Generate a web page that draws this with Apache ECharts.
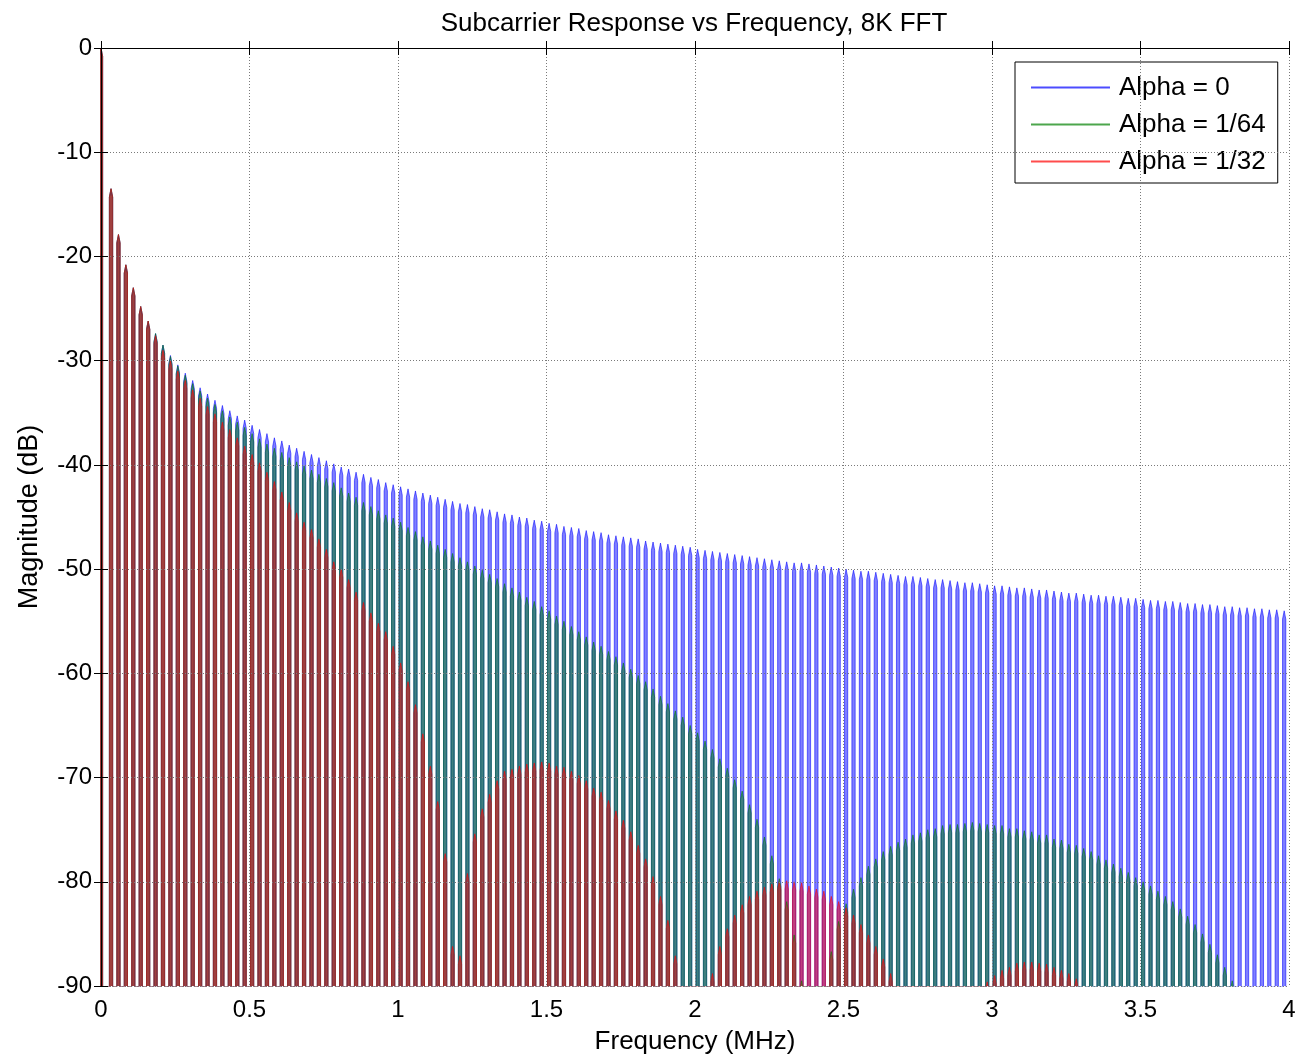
<!DOCTYPE html>
<html>
<head>
<meta charset="utf-8">
<script src="https://cdn.jsdelivr.net/npm/echarts@6/dist/echarts.min.js"></script>
<style>
  html, body { margin: 0; padding: 0; background: #fff; }
  #chart { width: 1301px; height: 1060px; }
</style>
</head>
<body>
<div id="chart"></div>
<script>
// ---- data ----
// Visible lobes repeat every 0.025 MHz; lobe k peaks near (k + 0.35) * 0.025 MHz (lobe 0 = main lobe at 0).
const lobeSpacing = 0.025;
const lobeOffset = 0.35;
// nulls fall off the bottom of the plot
const nullLevel = -92;

const seriesNames = ['Alpha = 0', 'Alpha = 1/64', 'Alpha = 1/32'];

// peak level (dB) of each lobe, k = 0..159
const alpha0Peaks = [
  0,
  -13.5, -17.9, -20.8, -23.0, -24.8, -26.2, -27.4, -28.5, -29.5, -30.4,
  -31.2, -31.9, -32.6, -33.2, -33.8, -34.3, -34.8, -35.3, -35.7, -36.2,
  -36.6, -37.0, -37.4, -37.7, -38.1, -38.4, -38.7, -39.0, -39.3, -39.6,
  -39.9, -40.2, -40.4, -40.7, -40.9, -41.2, -41.4, -41.7, -41.9, -42.1,
  -42.3, -42.5, -42.7, -42.9, -43.1, -43.3, -43.5, -43.7, -43.8, -44.0,
  -44.2, -44.3, -44.5, -44.7, -44.8, -45.0, -45.1, -45.3, -45.4, -45.6,
  -45.7, -45.9, -46.0, -46.1, -46.3, -46.4, -46.5, -46.7, -46.8, -46.9,
  -47.0, -47.1, -47.3, -47.4, -47.5, -47.6, -47.7, -47.8, -47.9, -48.1,
  -48.2, -48.3, -48.4, -48.5, -48.6, -48.7, -48.8, -48.9, -49.0, -49.1,
  -49.2, -49.3, -49.4, -49.4, -49.5, -49.6, -49.7, -49.8, -49.9, -50.0,
  -50.1, -50.2, -50.2, -50.3, -50.4, -50.5, -50.6, -50.7, -50.7, -50.8,
  -50.9, -51.0, -51.0, -51.1, -51.2, -51.3, -51.3, -51.4, -51.5, -51.6,
  -51.6, -51.7, -51.8, -51.8, -51.9, -52.0, -52.0, -52.1, -52.2, -52.3,
  -52.3, -52.4, -52.5, -52.5, -52.6, -52.6, -52.7, -52.8, -52.8, -52.9,
  -53.0, -53.0, -53.1, -53.1, -53.2, -53.3, -53.3, -53.4, -53.4, -53.5,
  -53.6, -53.6, -53.7, -53.7, -53.8, -53.8, -53.9, -53.9, -54.0
];

const alpha64Peaks = [
  0,
  -13.5, -17.9, -20.8, -23.0, -24.8, -26.2, -27.4, -28.5, -29.6, -30.5,
  -31.4, -32.2, -32.9, -33.6, -34.2, -34.8, -35.4, -35.9, -36.4, -37.0,
  -37.5, -38.0, -38.4, -38.8, -39.3, -39.7, -40.1, -40.5, -40.9, -41.3,
  -41.7, -42.2, -42.7, -43.1, -43.6, -44.0, -44.4, -44.8, -45.1, -45.5,
  -46.0, -46.4, -46.9, -47.3, -47.7, -48.1, -48.5, -48.9, -49.3, -49.7,
  -50.1, -50.5, -50.9, -51.4, -51.8, -52.2, -52.7, -53.1, -53.6, -54.0,
  -54.5, -55.0, -55.5, -56.0, -56.5, -57.0, -57.4, -57.9, -58.4, -59.0,
  -59.6, -60.2, -60.8, -61.5, -62.2, -62.9, -63.6, -64.2, -65.0, -65.7,
  -66.5, -67.3, -68.2, -69.1, -70.2, -71.3, -72.6, -74.0, -75.7, -77.5,
  -79.7, -81.9, -85.1, -89.5, null, null, null, -86.7, -83.8, -82.1,
  -80.7, -79.6, -78.5, -77.8, -77.1, -76.6, -76.2, -75.9, -75.5, -75.3,
  -75.0, -74.9, -74.6, -74.5, -74.5, -74.4, -74.3, -74.4, -74.5, -74.6,
  -74.6, -74.9, -74.9, -75.1, -75.2, -75.5, -75.5, -75.9, -76.0, -76.4,
  -76.5, -76.8, -77.1, -77.5, -77.9, -78.3, -78.7, -79.1, -79.6, -80.0,
  -80.4, -80.9, -81.4, -81.9, -82.6, -83.3, -84.1, -85.0, -86.0, -87.0,
  -88.2, -89.5, null, null, null, null, null, null, null
];

const alpha32Peaks = [
  0,
  -13.5, -17.9, -20.8, -23.0, -24.8, -26.2, -27.6, -29.0, -30.0, -31.0,
  -31.9, -32.8, -33.6, -34.4, -35.1, -35.9, -36.6, -37.4, -38.2, -39.0,
  -39.8, -40.7, -41.6, -42.6, -43.6, -44.6, -45.5, -46.2, -47.1, -48.1,
  -49.3, -50.0, -51.0, -52.2, -53.2, -54.2, -55.2, -56.0, -57.4, -59.0,
  -60.8, -63.0, -65.8, -68.9, -72.3, -77.3, -86.2, -87.1, -79.2, -75.4,
  -73.0, -71.6, -70.3, -69.4, -69.2, -68.9, -68.7, -68.6, -68.5, -68.6,
  -68.9, -69.0, -69.4, -69.8, -70.3, -71.0, -71.4, -72.2, -73.2, -74.1,
  -75.2, -76.5, -77.8, -79.5, -81.4, -83.7, -87.1, null, null, null,
  null, -88.8, -86.2, -84.5, -83.2, -82.2, -81.4, -80.9, -80.5, -80.2,
  -80.0, -79.9, -80.0, -80.1, -80.4, -80.7, -80.9, -81.4, -81.9, -82.5,
  -83.2, -84.1, -85.1, -86.2, -87.4, -88.8, null, null, null, null,
  null, null, null, null, null, null, null, null, -89.6, -89.0,
  -88.5, -88.2, -87.8, -87.7, -87.7, -87.8, -87.9, -88.2, -88.5, -88.8,
  -89.3, null, null, null, null, null, null, null, null, null,
  null, null, null, null, null, null, null, null, null, null,
  null, null, null, null, null, null, null, null, null
];

const xTicks = [0, 0.5, 1, 1.5, 2, 2.5, 3, 3.5, 4];
const yTicks = [-90, -80, -70, -60, -50, -40, -30, -20, -10, 0];

// ---- drawing ----
const colors = ['#0000ff', '#008000', '#ff0000'];
const BAND_HALF = 0.22 * lobeSpacing;  // half width of a drawn lobe band
const TOP_POINT = 0.8;                 // height of the pointed lobe top (dB)

function lobePoints(peaks) {
  const pts = [];
  peaks.forEach(function (pk, k) {
    if (pk === null) return;
    const c = k === 0 ? 0 : (k + lobeOffset) * lobeSpacing;
    pts.push([c - BAND_HALF, nullLevel]);
    pts.push([c - BAND_HALF, pk - TOP_POINT]);
    pts.push([c, pk]);
    pts.push([c + BAND_HALF, pk - TOP_POINT]);
    pts.push([c + BAND_HALF, nullLevel]);
  });
  return pts;
}

const allPeaks = [alpha0Peaks, alpha64Peaks, alpha32Peaks];
const FONT = 'Liberation Sans, Arial, Helvetica, sans-serif';

const series = allPeaks.map(function (pk, i) {
  return {
    name: seriesNames[i],
    type: 'line',
    data: lobePoints(pk),
    showSymbol: false,
    symbol: 'none',
    clip: true,
    animation: false,
    color: colors[i],
    lineStyle: { color: colors[i], width: 0.8, opacity: 0.7 },
    areaStyle: { color: colors[i], opacity: 0.5, origin: 'start' },
    emphasis: { disabled: true }
  };
});

const chart = echarts.init(document.getElementById('chart'), null, { renderer: 'canvas' });
chart.setOption({
  animation: false,
  backgroundColor: '#ffffff',
  title: {
    text: 'Subcarrier Response vs Frequency, 8K FFT',
    left: 689,
    top: 6,
    textAlign: 'center',
    textStyle: { fontFamily: FONT, fontSize: 26, fontWeight: 'normal', color: '#000' }
  },
  legend: {
    orient: 'vertical',
    left: 1015,
    top: 62,
    padding: [12, 12, 8, 16],
    itemGap: 10,
    itemWidth: 79,
    itemHeight: 2,
    icon: 'rect',
    backgroundColor: '#ffffff',
    borderColor: '#000000',
    borderWidth: 1,
    borderRadius: 0,
    textStyle: { fontFamily: FONT, fontSize: 26, color: '#000', lineHeight: 27, padding: [0, 0, 0, 4] },
    data: seriesNames.map(function (n, i) { return { name: n, itemStyle: { color: colors[i], opacity: 0.7 } }; })
  },
  grid: { left: 101, right: 12, top: 48, bottom: 72, containLabel: false },
  xAxis: [{
    type: 'value', min: xTicks[0], max: xTicks[xTicks.length - 1], interval: 0.5,
    position: 'bottom', z: 5,
    name: 'Frequency (MHz)', nameLocation: 'middle', nameGap: 43,
    nameTextStyle: { fontFamily: FONT, fontSize: 26, color: '#000' },
    axisLine: { lineStyle: { color: '#000', width: 1 } },
    axisTick: { inside: true, length: 7, lineStyle: { color: '#000' } },
    axisLabel: { fontFamily: FONT, fontSize: 24, color: '#000', margin: 12 },
    splitLine: { show: true, lineStyle: { color: '#7a7a7a', type: [1, 2], width: 1 } }
  }, {
    type: 'value', min: xTicks[0], max: xTicks[xTicks.length - 1], interval: 0.5,
    position: 'top', z: 5,
    axisLine: { lineStyle: { color: '#000', width: 1 } },
    axisTick: { inside: true, length: 7, lineStyle: { color: '#000' } },
    axisLabel: { show: false },
    splitLine: { show: false }
  }],
  yAxis: [{
    type: 'value', min: yTicks[0], max: yTicks[yTicks.length - 1], interval: 10,
    position: 'left', z: 5,
    name: 'Magnitude (dB)', nameLocation: 'middle', nameGap: 58,
    nameTextStyle: { fontFamily: FONT, fontSize: 27, color: '#000' },
    axisLine: { lineStyle: { color: '#000', width: 1 } },
    axisTick: { inside: true, length: 7, lineStyle: { color: '#000' } },
    axisLabel: { fontFamily: FONT, fontSize: 24, color: '#000', margin: 9 },
    splitLine: { show: true, lineStyle: { color: '#7a7a7a', type: [1, 2], width: 1 } }
  }, {
    type: 'value', min: yTicks[0], max: yTicks[yTicks.length - 1], interval: 10,
    position: 'right', z: 5,
    axisLine: { lineStyle: { color: '#000', width: 1 } },
    axisTick: { inside: true, length: 7, lineStyle: { color: '#000' } },
    axisLabel: { show: false },
    splitLine: { show: false }
  }],
  series: series
});
</script>
</body>
</html>
